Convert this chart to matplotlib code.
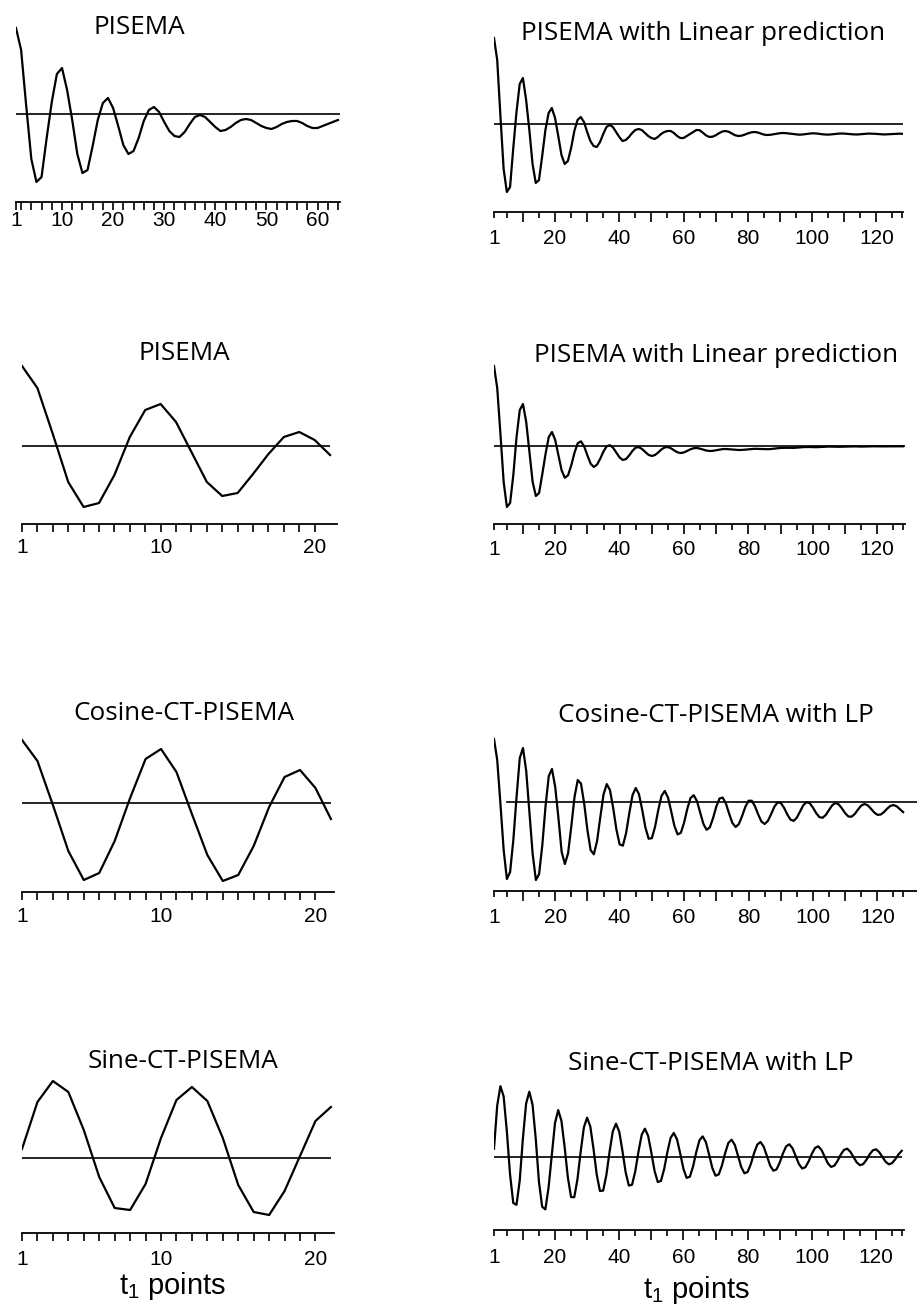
import numpy as np
import matplotlib
matplotlib.use("Agg")
import matplotlib.pyplot as plt

# signal heights (pixel units, baseline = 0)
pisema_64 = [86, 64, 8, -45, -68, -63, -24, 12, 40, 46, 24, -6, -40, -59, -56, -32,
             -6, 11, 16, 6, -12, -31, -40, -37, -24, -7, 4, 7, 2, -8, -17, -22,
             -23, -18, -10, -3, -1, -3, -8, -13, -17, -16, -13, -9, -6, -5, -6, -9,
             -12, -14, -15, -13, -10, -8, -7, -7, -9, -12, -14, -14, -12, -10, -8, -6]

pisema_64_lp_tail = [-6.2, -8.7, -11.4, -12.9, -12.7, -11.3, -9.3, -7.6, -7.0, -7.7,
                     -9.4, -11.2, -12.0, -11.7, -10.7, -9.4, -8.4, -8.0, -8.4, -9.5,
                     -10.6, -11.0, -10.8, -10.3, -9.7, -9.2, -9.0, -9.2, -9.6, -10.1,
                     -10.5, -10.7, -10.5, -10.1, -9.6, -9.3, -9.4, -9.7, -10.2, -10.5,
                     -10.6, -10.4, -10.0, -9.7, -9.5, -9.6, -9.9, -10.2, -10.4, -10.5,
                     -10.3, -10.0, -9.7, -9.6, -9.7, -9.9, -10.2, -10.4, -10.4, -10.2,
                     -10.0, -9.8, -9.7, -9.8]

pisema_21 = [80, 58, 12, -36, -61, -57, -29, 9, 36, 42, 24, -6, -36, -50, -47, -28,
             -8, 9, 14, 6, -9]

pisema_21_lp_tail = [-24.4, -31.8, -29.2, -19.2, -6.6, 2.8, 4.7, -0.4, -9.4, -17.7,
                     -21, -18.6, -12.6, -5.4, -0.2, 0.8, -1.9, -6.8, -11.5, -14,
                     -13, -9.3, -4.8, -1.6, -1.2, -3.1, -6.1, -8.9, -10, -9,
                     -6.4, -3.4, -1.4, -1.1, -2.4, -4.5, -6.4, -7, -6.4, -4.9,
                     -3.3, -2.2, -2, -2.7, -3.7, -4.6, -5, -4.8, -4.2, -3.5,
                     -3.1, -3.0, -3.2, -3.5, -3.8, -4.0, -3.9, -3.6, -3.2, -2.9,
                     -2.8, -2.9, -3.1, -3.2, -3.2, -3.0, -2.6, -2.2, -1.9, -1.8,
                     -1.8, -1.9, -1.9, -1.7, -1.4, -1.1, -1.0, -1.0, -1.1, -1.2,
                     -1.1, -0.9, -0.7, -0.6, -0.6, -0.7, -0.8, -0.7, -0.6, -0.5,
                     -0.4, -0.4, -0.5, -0.6, -0.5, -0.4, -0.3, -0.3, -0.4, -0.4,
                     -0.4, -0.3, -0.3, -0.3, -0.3, -0.3, -0.3]

cos_ct = [63, 42, -2, -48, -77, -70, -38, 5, 44, 54, 31, -11, -52, -78, -72, -43,
          -4, 26, 33, 15, -16]

cos_ct_lp_tail = [-49.9, -62, -51.2, -24.2, 5.2, 22.0, 18.4, -1.6, -28.1, -48.2,
                  -52.3, -38.9, -15.1, 7.6, 17.9, 11.9, -6.1, -27.6, -42.4, -43.7,
                  -31.2, -11.1, 6.9, 14, 7.8, -7.9, -25.5, -36.7, -36.2, -24.7,
                  -7.9, 6.2, 11, 4.6, -9.3, -24, -32.4, -30.8, -20.7, -6.9,
                  4.0, 6.8, 0.9, -10.6, -22, -27.8, -25.3, -16.1, -4.6, 3.5,
                  4.4, -1.7, -11.8, -21, -25, -22.1, -14.2, -4.9, 1.2, 1.3,
                  -4.2, -12.4, -19.5, -22, -19, -12.3, -4.9, -0.4, -0.9, -5.6,
                  -12.2, -17.5, -18.9, -15.7, -9.5, -3.3, -0.1, -1.2, -5.6, -11.1,
                  -15.1, -15.8, -12.9, -7.9, -3.2, -1.0, -2.4, -6.4, -11.2, -14.5,
                  -14.7, -11.9, -7.5, -3.5, -2, -3.3, -6.7, -10.4, -12.8, -12.6,
                  -10.2, -6.8, -4, -3, -4.3, -7.2, -10.1]

sine_ct = [9, 56, 77, 66, 28, -19, -50, -52, -26, 20, 58, 71, 57, 20, -27, -54,
           -57, -33, 2, 37, 51]

sine_ct_lp = [8.3, 51.5, 70.8, 60.7, 25.8, -17.5, -46, -47.8, -24, 18.4,
              53.4, 65.3, 52.4, 18.4, -24.8, -49.7, -52.4, -30.4, 1.8, 34, 46.9,
              36.2, 9.9, -20.3, -40.1, -40.2, -22.1, 5.4, 29.7, 39.3, 30.5,
              7.9, -17.7, -34, -33.6, -18, 5.3, 25.6, 33.3, 25.4, 6.2,
              -15.2, -28.6, -27.7, -14.3, 5.4, 22.2, 28.3, 21.2, 4.5, -13.8,
              -25, -23.9, -12, 4.9, 19.1, 24, 17.7, 3.5, -11.8, -20.9,
              -19.7, -9.5, 4.9, 16.8, 20.6, 14.9, 2.3, -11, -18.7, -17.4,
              -8.4, 4, 14.1, 17.3, 12.1, 1.3, -10, -16.3, -14.9, -7,
              3.8, 12.4, 15, 10.3, 1.1, -8.5, -13.7, -12.4, -5.5, 3.6,
              10.7, 12.7, 8.6, 0.7, -7.2, -11.5, -10.2, -4.4, 3.2, 9.1,
              10.7, 7, 0.3, -6.4, -9.9, -8.7, -3.9, 2.4, 7.1, 8.3,
              5.2, -0.2, -5.5, -8.2, -7.1, -2.8, 2.7, 6.7, 7.7, 4.8,
              -0.1, -4.9, -7.3, -6.1, -2.2, 2.7, 6.2]

titles = ["PISEMA", "PISEMA with Linear prediction",
          "PISEMA", "PISEMA with Linear prediction",
          "Cosine-CT-PISEMA", "Cosine-CT-PISEMA with LP",
          "Sine-CT-PISEMA", "Sine-CT-PISEMA with LP"]
xlabel = "t$_1$ points"

plt.rcParams["mathtext.default"] = "regular"

W, H = 917, 1311
fig = plt.figure(figsize=(W / 100, H / 100), dpi=100)
TITLE_FONT = "Open Sans"
TICK_FONT = "Liberation Sans"
TICK_SIZE = 15


def add_panel(left, right, top, bottom, base, xmax):
    ax = fig.add_axes([left / W, 1 - bottom / H, (right - left) / W, (bottom - top) / H])
    ax.set_xlim(1, xmax)
    ax.set_ylim(base - bottom, base - top)
    for s in ("left", "right", "top"):
        ax.spines[s].set_visible(False)
    ax.spines["bottom"].set_linewidth(1.3)
    ax.set_yticks([])
    ax.patch.set_alpha(0)
    return ax


def title(x, y, text):
    fig.text(x / W, 1 - y / H, text, ha="center", va="center",
             fontsize=18.8, family=TITLE_FONT)


def short_ruler(ax, pad):
    pos = list(range(1, 21))
    lab = [str(p) if p in (1, 10, 20) else "" for p in pos]
    ax.set_xticks(pos, labels=lab)
    ax.tick_params(axis="x", direction="out", length=6, width=1.2, pad=pad,
                   labelsize=TICK_SIZE)


def long_ruler(ax, pad):
    major = [1] + list(range(10, 121, 10))
    lab = [str(p) if p == 1 or p % 20 == 0 else "" for p in major]
    ax.set_xticks(major, labels=lab)
    ax.set_xticks(list(range(5, 126, 10)) + [128], minor=True)
    ax.tick_params(axis="x", which="major", direction="out", length=7.5, width=1.2,
                   pad=pad, labelsize=TICK_SIZE)
    ax.tick_params(axis="x", which="minor", direction="out", length=4, width=1.2)
    ax.xaxis.get_major_ticks()[0].tick1line.set_markersize(4)


def curve(ax, y):
    t = np.arange(1, len(y) + 1)
    ax.plot(t, y, color="black", lw=1.6)
    return t


# panel 1
ax = add_panel(16, 340, 20, 202, 114, 64.4)
curve(ax, pisema_64)
ax.axhline(0, color="black", lw=1.2)
ax.set_xticks([1, 10, 20, 30, 40, 50, 60], labels=["1", "10", "20", "30", "40", "50", "60"])
ax.set_xticks(list(range(2, 65, 2)), minor=True)
ax.tick_params(axis="x", which="both", direction="out", length=6, width=1.2, pad=0.5,
               labelsize=TICK_SIZE)
title(139, 28, titles[0])

# panel 2
ax = add_panel(494, 903, 30, 212, 124, 128.3)
curve(ax, pisema_64 + pisema_64_lp_tail)
ax.axhline(0, color="black", lw=1.2)
long_ruler(ax, 4.5)
title(703, 33, titles[1])

# panel 3
ax = add_panel(22, 337, 358, 524, 446, 21.45)
t = curve(ax, pisema_21)
ax.hlines(0, t[0], t[-1], color="black", lw=1.2)
short_ruler(ax, 4)
title(184, 353, titles[2])

# panel 4
ax = add_panel(494, 905, 358, 524, 446, 128.6)
curve(ax, pisema_21 + pisema_21_lp_tail)
ax.axhline(0, color="black", lw=1.2)
long_ruler(ax, 4)
title(716, 355, titles[3])

# panel 5
ax = add_panel(22, 334, 732, 892, 803, 21.2)
t = curve(ax, cos_ct)
ax.hlines(0, t[0], t[-1], color="black", lw=1.2)
short_ruler(ax, 4.5)
title(184, 713, titles[4])

# panel 6
ax = add_panel(494, 917, 730, 891, 802, 132.3)
curve(ax, cos_ct + cos_ct_lp_tail)
ax.axhline(0, xmin=0.031, color="black", lw=1.2)
long_ruler(ax, 4.5)
title(716, 715, titles[5])

# panel 7
ax = add_panel(22, 334, 1075, 1233, 1158, 21.2)
t = curve(ax, sine_ct)
ax.hlines(0, t[0], t[-1], color="black", lw=1.2)
short_ruler(ax, 6)
title(183, 1062, titles[6])
fig.text(173 / W, 1 - 1286 / H, xlabel, ha="center", va="center", fontsize=21,
         family=TICK_FONT)

# panel 8
ax = add_panel(494, 904, 1078, 1230, 1157, 128.7)
t = curve(ax, sine_ct_lp)
ax.hlines(0, t[0], t[-1], color="black", lw=1.2)
long_ruler(ax, 5.5)
title(711, 1063, titles[7])
fig.text(697 / W, 1 - 1290 / H, xlabel, ha="center", va="center", fontsize=21,
         family=TICK_FONT)

for a in fig.axes:
    for lab in a.get_xticklabels():
        lab.set_family(TICK_FONT)

fig.savefig("out.png", dpi=100)
